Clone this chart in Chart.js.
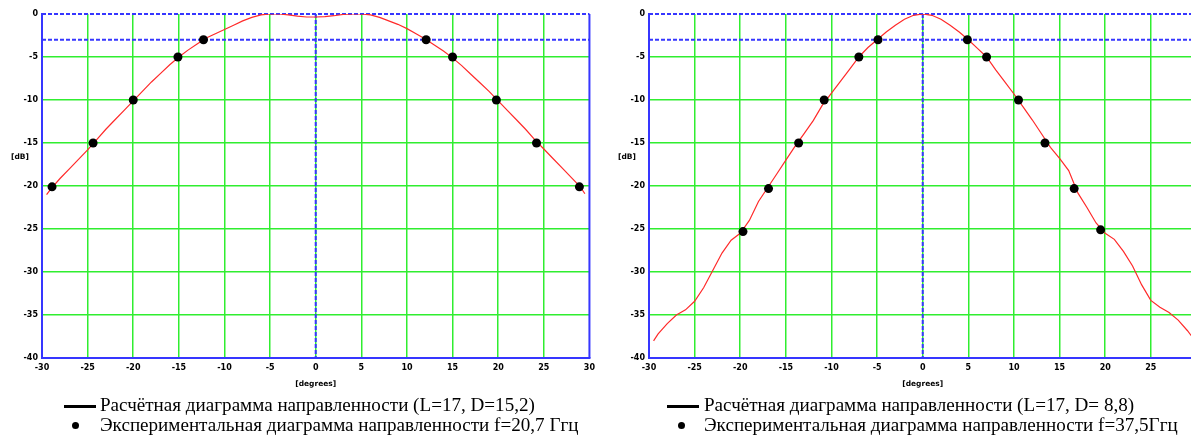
<!DOCTYPE html>
<html>
<head>
<meta charset="utf-8">
<script src="https://cdn.jsdelivr.net/npm/chart.js@4/dist/chart.umd.min.js"></script>
<style>
body { margin: 0; width: 1191px; height: 436px; overflow: hidden; background: #fff; position: relative; font-family: "Liberation Serif", serif; }
.box { position: absolute; top: 0; width: 600px; height: 395px; }
.db { position: absolute; top: 152px; font: bold 7.5px "DejaVu Sans", sans-serif; color: #000; }
.txt { position: absolute; font-size: 19.1px; line-height: 20px; color: #000; white-space: nowrap; }
.ln { position: absolute; width: 32px; height: 3px; background: #000; }
.dt { position: absolute; width: 7px; height: 7px; border-radius: 50%; background: #000; }
</style>
</head>
<body>
<div class="box" style="left:0"><canvas id="chartL" width="600" height="395"></canvas></div>
<div class="box" style="left:607px"><canvas id="chartR" width="600" height="395"></canvas></div>
<div class="db" style="left:11px">[dB]</div>
<div class="db" style="left:618px">[dB]</div>

<div class="ln" style="left:64px;top:405px"></div>
<div class="txt" style="left:100px;top:395px">Расчётная диаграмма направленности (L=17, D=15,2)</div>
<div class="dt" style="left:72px;top:422px"></div>
<div class="txt" style="left:100px;top:415px">Экспериментальная диаграмма направленности f=20,7 Ггц</div>

<div class="ln" style="left:667px;top:405px"></div>
<div class="txt" style="left:704px;top:395px">Расчётная диаграмма направленности (L=17, D= 8,8)</div>
<div class="dt" style="left:678px;top:422px"></div>
<div class="txt" style="left:704px;top:415px">Экспериментальная диаграмма направленности f=37,5Ггц</div>

<script>
// angles of the computed pattern, degrees
var calcDeg = [-29.5, -29, -28, -27, -26, -25, -24, -23, -22, -21, -20, -19, -18, -17, -16, -15, -14, -13, -12, -11, -10,
  -9, -8, -7, -6, -5, -4, -3, -2, -1, 0, 1, 2, 3, 4, 5, 6, 7, 8, 9,
  10, 11, 12, 13, 14, 15, 16, 17, 18, 19, 20, 21, 22, 23, 24, 25, 26, 27, 28, 29, 29.5];

// computed pattern, L=17, D=15.2 (dB)
var calcLeft = [-21.0, -20.3, -19.1, -18.0, -16.9, -15.8, -14.6, -13.4, -12.3, -11.2, -10.1, -9.0, -7.9, -6.9, -5.9, -5.0, -4.2, -3.5, -2.8, -2.3, -1.8,
  -1.3, -0.8, -0.4, -0.1, 0, 0, -0.1, -0.25, -0.35, -0.35, -0.3, -0.2, -0.05, 0, 0, -0.1, -0.4, -0.8, -1.2,
  -1.7, -2.3, -2.9, -3.6, -4.3, -5.1, -6.0, -7.0, -8.0, -9.0, -10.1, -11.2, -12.3, -13.4, -14.6, -15.7, -16.8, -17.9, -19.0, -20.1, -20.9];

// computed pattern, L=17, D=8.8 (dB)
var calcRight = [-38.0, -37.2, -36.0, -35.0, -34.4, -33.4, -31.8, -29.8, -27.8, -26.3, -25.5, -24.0, -21.8, -20.2, -18.6, -17.0, -15.4, -13.9, -12.4, -10.6, -9.2,
  -7.8, -6.4, -5.0, -3.9, -3.0, -2.1, -1.3, -0.6, -0.15, 0, -0.15, -0.6, -1.3, -2.1, -3.0, -4.0, -5.0, -6.5, -7.9,
  -9.3, -10.8, -12.3, -13.9, -15.5, -16.8, -18.2, -20.8, -22.5, -24.3, -25.5, -26.2, -27.6, -29.3, -31.5, -33.3, -34.1, -34.7, -35.6, -36.8, -37.5];

// measured pattern, f=20.7 GHz
var expLeftDeg = [-28.9, -24.4, -20, -15.1, -12.3, 12.1, 15, 19.8, 24.2, 28.9];
var expLeftDb = [-20.1, -15, -10, -5, -3, -3, -5, -10, -15, -20.1];

// measured pattern, f=37.5 GHz
var expRightDeg = [-19.7, -16.9, -13.6, -10.8, -7, -4.9, 4.9, 7, 10.5, 13.4, 16.6, 19.5];
var expRightDb = [-25.3, -20.3, -15, -10, -5, -3, -3, -5, -10, -15, -20.3, -25.1];

// dashed reference levels (dB) and axis ranges
var refLevels = [0, -3];
var degRange = [-30, 30];
var dbRange = [-40, 0];

var green = "#30ee30";
var blue = "#3636ff";
var tickFont = { family: "DejaVu Sans", size: 8, weight: "bold" };

function pairs(xs, ys) {
  return xs.map(function(x, i) { return { x: x, y: ys[i] }; });
}

function makeChart(id, curve, expDeg, expDb) {
  var datasets = [
    {
      data: pairs(expDeg, expDb),
      showLine: false,
      pointRadius: 4.5,
      pointBackgroundColor: "#000",
      pointBorderWidth: 0
    },
    {
      data: pairs(calcDeg, curve),
      showLine: true,
      borderColor: "#ff2a2a",
      borderWidth: 1.2,
      pointRadius: 0,
      tension: 0
    },
    {
      data: [{ x: 0, y: dbRange[1] }, { x: 0, y: dbRange[0] }],
      showLine: true,
      borderColor: blue,
      borderWidth: 2,
      borderDash: [4, 2],
      pointRadius: 0,
      clip: false
    },
    {
      data: [{ x: degRange[1], y: dbRange[1] }, { x: degRange[1], y: dbRange[0] }],
      showLine: true,
      borderColor: blue,
      borderWidth: 2,
      pointRadius: 0,
      clip: false
    }
  ];
  refLevels.forEach(function(lv) {
    datasets.push({
      data: [{ x: degRange[0], y: lv }, { x: degRange[1], y: lv }],
      showLine: true,
      borderColor: blue,
      borderWidth: 2,
      borderDash: [4, 2],
      pointRadius: 0,
      clip: false
    });
  });

  return new Chart(document.getElementById(id).getContext("2d"), {
    type: "scatter",
    data: { datasets: datasets },
    options: {
      responsive: false,
      animation: false,
      layout: { padding: { left: 0, right: 7, top: 14, bottom: 0 } },
      plugins: { legend: { display: false }, tooltip: { enabled: false } },
      scales: {
        x: {
          type: "linear",
          min: degRange[0],
          max: degRange[1],
          afterFit: function(s) { s.height = 37; },
          ticks: { stepSize: 5, font: tickFont, color: "#000", padding: 5, maxRotation: 0, autoSkip: false },
          grid: {
            drawTicks: false,
            lineWidth: 1.5,
            color: function(c) { return (c.tick && Math.abs(c.tick.value) === 30) ? "rgba(0,0,0,0)" : green; }
          },
          border: { color: blue, width: 2 },
          title: { display: true, text: "[degrees]", font: { family: "DejaVu Sans", size: 7.5, weight: "bold" }, color: "#000", padding: { top: 2, bottom: 6 } }
        },
        y: {
          min: dbRange[0],
          max: dbRange[1],
          afterFit: function(s) { s.width = 42; },
          ticks: { stepSize: 5, font: tickFont, color: "#000", padding: 4 },
          grid: {
            drawTicks: false,
            lineWidth: 1.5,
            color: function(c) { return (c.tick && (c.tick.value === 0 || c.tick.value === -40)) ? "rgba(0,0,0,0)" : green; }
          },
          border: { color: blue, width: 2 }
        }
      }
    }
  });
}

makeChart("chartL", calcLeft, expLeftDeg, expLeftDb);
makeChart("chartR", calcRight, expRightDeg, expRightDb);
</script>
</body>
</html>
